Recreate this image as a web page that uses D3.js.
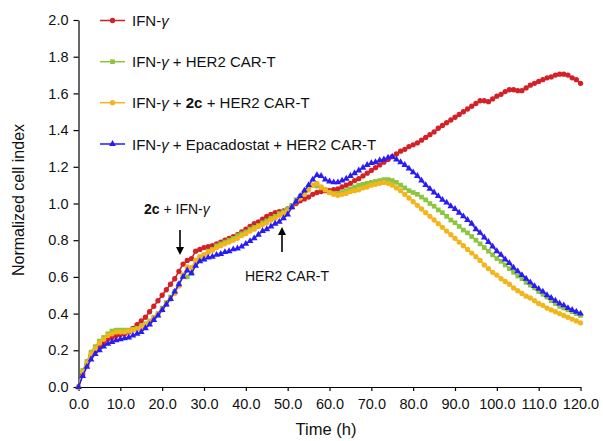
<!DOCTYPE html>
<html>
<head>
<meta charset="utf-8">
<script src="https://cdn.jsdelivr.net/npm/d3@7"></script>
<style>
  body { margin: 0; background: #fff; }
  svg { font-family: Arial, "Liberation Sans", sans-serif; }
</style>
</head>
<body>
<svg id="svg1" width="603" height="441"></svg>
<script>
// hourly readings, 0..120 h
var hours = d3.range(0, 121);

var ifnOnly = [0.00,0.07,0.12,0.17,0.20,0.22,0.24,0.26,0.27,0.28,0.285,0.29,0.30,0.32,0.34,0.36,0.38,0.41,0.44,0.47,
  0.50,0.53,0.56,0.59,0.63,0.67,0.69,0.70,0.74,0.75,0.76,0.765,0.77,0.78,0.79,0.80,0.81,0.82,0.83,0.845,
  0.86,0.875,0.89,0.90,0.915,0.93,0.94,0.95,0.955,0.96,0.97,0.985,1.00,1.015,1.025,1.035,1.05,1.06,1.065,1.07,
  1.07,1.075,1.08,1.09,1.10,1.11,1.125,1.135,1.15,1.165,1.18,1.195,1.21,1.225,1.24,1.255,1.27,1.285,1.295,1.31,
  1.32,1.33,1.345,1.36,1.375,1.39,1.41,1.425,1.44,1.455,1.47,1.485,1.50,1.515,1.53,1.545,1.56,1.56,1.555,1.57,
  1.585,1.595,1.61,1.62,1.62,1.615,1.615,1.63,1.645,1.655,1.665,1.675,1.685,1.69,1.70,1.705,1.705,1.70,1.685,1.675,
  1.655];

var ifnCart = [0.00,0.09,0.14,0.19,0.22,0.25,0.27,0.29,0.305,0.31,0.31,0.31,0.31,0.315,0.32,0.33,0.345,0.36,0.38,0.40,
  0.43,0.46,0.49,0.52,0.56,0.61,0.60,0.62,0.67,0.70,0.72,0.74,0.75,0.77,0.78,0.79,0.80,0.81,0.825,0.835,
  0.845,0.86,0.87,0.88,0.895,0.905,0.92,0.93,0.945,0.955,0.97,0.99,1.02,1.04,1.06,1.08,1.10,1.095,1.085,1.075,
  1.06,1.055,1.055,1.06,1.07,1.08,1.09,1.10,1.105,1.11,1.115,1.12,1.125,1.13,1.13,1.125,1.115,1.10,1.085,1.07,
  1.06,1.05,1.035,1.02,1.00,0.985,0.965,0.95,0.93,0.91,0.895,0.875,0.855,0.84,0.82,0.80,0.78,0.76,0.74,0.72,
  0.70,0.685,0.665,0.645,0.625,0.605,0.59,0.57,0.555,0.54,0.52,0.505,0.49,0.47,0.455,0.44,0.43,0.42,0.41,0.40,
  0.39];

var ifn2cCart = [0.00,0.08,0.13,0.18,0.21,0.24,0.26,0.28,0.29,0.30,0.30,0.30,0.305,0.31,0.315,0.325,0.34,0.355,0.375,0.395,
  0.42,0.45,0.48,0.51,0.55,0.61,0.655,0.65,0.69,0.71,0.72,0.735,0.745,0.76,0.77,0.78,0.79,0.80,0.81,0.825,
  0.835,0.85,0.86,0.875,0.885,0.895,0.91,0.92,0.935,0.945,0.96,0.98,1.01,1.03,1.05,1.075,1.10,1.11,1.09,1.075,
  1.06,1.05,1.045,1.05,1.055,1.065,1.07,1.075,1.085,1.09,1.10,1.105,1.11,1.115,1.11,1.10,1.085,1.07,1.05,1.03,
  1.01,0.99,0.97,0.95,0.93,0.91,0.89,0.87,0.85,0.83,0.81,0.79,0.77,0.75,0.73,0.71,0.69,0.665,0.645,0.625,
  0.61,0.59,0.575,0.56,0.54,0.525,0.51,0.495,0.485,0.47,0.455,0.445,0.43,0.42,0.41,0.40,0.39,0.38,0.37,0.36,
  0.35];

var ifnEpaCart = [0.00,0.06,0.11,0.15,0.18,0.20,0.22,0.235,0.245,0.255,0.26,0.265,0.27,0.28,0.29,0.30,0.32,0.34,0.365,0.39,
  0.42,0.45,0.48,0.52,0.56,0.60,0.635,0.62,0.66,0.685,0.695,0.705,0.71,0.72,0.725,0.735,0.74,0.75,0.755,0.765,
  0.78,0.795,0.81,0.83,0.85,0.86,0.875,0.89,0.90,0.92,0.94,0.98,1.01,1.04,1.07,1.10,1.13,1.155,1.15,1.13,
  1.12,1.115,1.115,1.125,1.135,1.15,1.165,1.18,1.195,1.21,1.22,1.225,1.235,1.24,1.25,1.255,1.24,1.225,1.21,1.19,
  1.17,1.15,1.125,1.10,1.08,1.06,1.04,1.02,1.005,0.985,0.97,0.95,0.93,0.91,0.89,0.86,0.84,0.815,0.79,0.765,
  0.74,0.72,0.695,0.675,0.65,0.63,0.61,0.59,0.57,0.55,0.535,0.52,0.50,0.485,0.47,0.455,0.445,0.43,0.42,0.41,
  0.40];

var xTicks = d3.range(0, 121, 10);
var yTicks = [0, 0.2, 0.4, 0.6, 0.8, 1.0, 1.2, 1.4, 1.6, 1.8, 2.0];

var series = [
  {name: 'red',    values: ifnOnly,    color: '#d42027', shape: 'circle'},
  {name: 'green',  values: ifnCart,    color: '#8cc63e', shape: 'square'},
  {name: 'yellow', values: ifn2cCart,  color: '#f2b51c', shape: 'circle'},
  {name: 'blue',   values: ifnEpaCart, color: '#2a1cf5', shape: 'triangle'}
];

var svg = d3.select('#svg1');

var scaleX = d3.scaleLinear().domain([0, 120]).range([78.5, 580.5]);
var scaleY = d3.scaleLinear().domain([0, 2]).range([387, 20]);

// axes
var xAxis = svg.append('g')
    .attr('transform', 'translate(0,' + scaleY(0) + ')')
    .call(d3.axisBottom(scaleX).tickValues(xTicks).tickSize(4).tickSizeOuter(0)
        .tickFormat(d3.format('.1f')));

var yAxis = svg.append('g')
    .attr('transform', 'translate(' + scaleX(0) + ',0)')
    .call(d3.axisLeft(scaleY).tickValues(yTicks).tickSize(5).tickSizeOuter(0)
        .tickFormat(d3.format('.1f')));

[xAxis, yAxis].forEach(function(a){
    a.select('.domain').attr('stroke', '#000').attr('stroke-width', 1.2);
    a.selectAll('.tick line').attr('stroke', '#000').attr('stroke-width', 1.2);
    a.selectAll('.tick text').attr('fill', '#111').style('font-size', '14.5px')
        .style('font-family', 'Arial, "Liberation Sans", sans-serif');
});
xAxis.selectAll('.tick text').attr('dy', '1.05em');
yAxis.selectAll('.tick text').attr('x', -10);

// axis titles
svg.append('text')
    .attr('x', 326).attr('y', 435)
    .attr('text-anchor', 'middle')
    .style('font-size', '16.5px').attr('fill', '#111')
    .text('Time (h)');

svg.append('text')
    .attr('transform', 'translate(24,200) rotate(-90)')
    .attr('text-anchor', 'middle')
    .style('font-size', '16px').attr('fill', '#111')
    .text('Normalized cell index');

// markers
var symbolFor = {
    circle: d3.symbol().type(d3.symbolCircle).size(22),
    square: d3.symbol().type(d3.symbolSquare).size(22),
    triangle: d3.symbol().type(d3.symbolTriangle).size(20)
};

var line = d3.line()
    .x(function(d){ return scaleX(d[0]); })
    .y(function(d){ return scaleY(d[1]); });

series.forEach(function(s){
    var pts = hours.map(function(h, i){ return [h, s.values[i]]; });
    var g = svg.append('g').attr('class', 'series-' + s.name);
    g.append('path')
        .datum(pts)
        .attr('d', line)
        .attr('fill', 'none')
        .attr('stroke', s.color)
        .attr('stroke-width', 1.5);
    g.selectAll('.pt')
        .data(pts)
        .enter()
        .append('path')
        .attr('class', 'pt')
        .attr('transform', function(d){ return 'translate(' + scaleX(d[0]) + ',' + scaleY(d[1]) + ')'; })
        .attr('d', symbolFor[s.shape]())
        .attr('fill', s.color);
});

// legend
var legendLabels = [
    [{t: 'IFN-'}, {t: 'γ', i: true}],
    [{t: 'IFN-'}, {t: 'γ', i: true}, {t: ' + HER2 CAR-T'}],
    [{t: 'IFN-'}, {t: 'γ', i: true}, {t: ' + '}, {t: '2c', b: true}, {t: ' + HER2 CAR-T'}],
    [{t: 'IFN-'}, {t: 'γ', i: true}, {t: ' + Epacadostat + HER2 CAR-T'}]
];
var legendY = [20.5, 61.7, 102.7, 144];

series.forEach(function(s, i){
    var y = legendY[i];
    svg.append('line')
        .attr('x1', 100).attr('x2', 125).attr('y1', y).attr('y2', y)
        .attr('stroke', s.color).attr('stroke-width', 1.5);
    svg.append('path')
        .attr('transform', 'translate(112.5,' + y + ')')
        .attr('d', symbolFor[s.shape]())
        .attr('fill', s.color);
    var txt = svg.append('text')
        .attr('x', 132).attr('y', y + 5.5)
        .style('font-size', '15px').attr('fill', '#111');
    legendLabels[i].forEach(function(p){
        txt.append('tspan')
            .style('font-style', p.i ? 'italic' : null)
            .style('font-weight', p.b ? 'bold' : null)
            .text(p.t);
    });
});

// annotations
var ann1 = svg.append('text')
    .attr('x', 144).attr('y', 214)
    .style('font-size', '14px').attr('fill', '#111');
ann1.append('tspan').style('font-weight', 'bold').text('2c');
ann1.append('tspan').text(' + IFN-');
ann1.append('tspan').style('font-style', 'italic').text('γ');

svg.append('text')
    .attr('x', 245).attr('y', 281)
    .style('font-size', '14px').attr('fill', '#111')
    .text('HER2 CAR-T');

function arrow(x, yFrom, yTo){
    var dir = yTo > yFrom ? 1 : -1;
    svg.append('line')
        .attr('x1', x).attr('x2', x).attr('y1', yFrom).attr('y2', yTo - dir * 6)
        .attr('stroke', '#000').attr('stroke-width', 1.6);
    svg.append('path')
        .attr('d', 'M' + (x - 4) + ',' + (yTo - dir * 8) + 'L' + (x + 4) + ',' + (yTo - dir * 8) + 'L' + x + ',' + yTo + 'Z')
        .attr('fill', '#000');
}
arrow(180, 230, 255);
arrow(282, 252, 227);
</script>
</body>
</html>
